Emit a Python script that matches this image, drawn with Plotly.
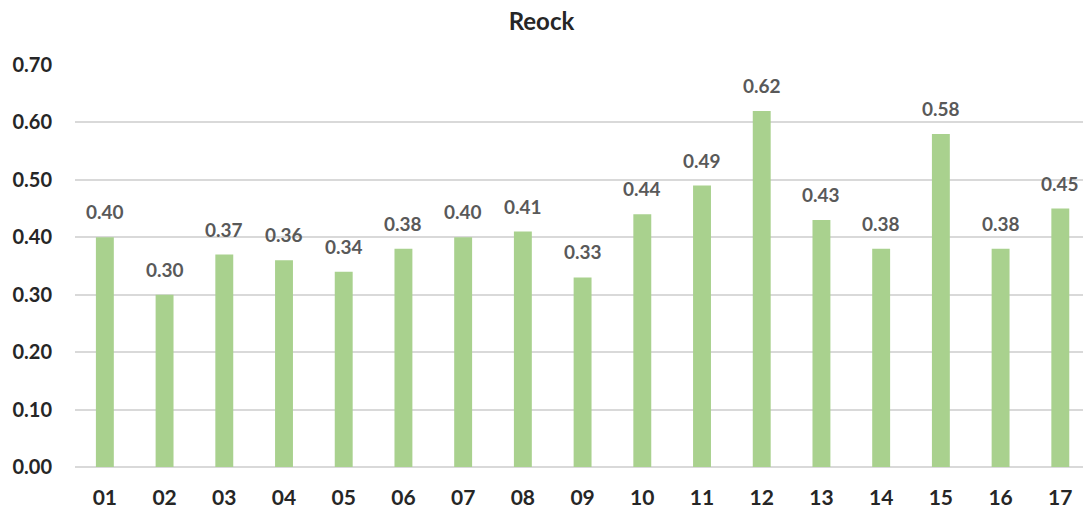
import plotly.graph_objects as go

categories = ["01", "02", "03", "04", "05", "06", "07", "08", "09", "10",
              "11", "12", "13", "14", "15", "16", "17"]
values = [0.40, 0.30, 0.37, 0.36, 0.34, 0.38, 0.40, 0.41, 0.33, 0.44,
          0.49, 0.62, 0.43, 0.38, 0.58, 0.38, 0.45]
y_ticks = [0.0, 0.1, 0.2, 0.3, 0.4, 0.5, 0.6, 0.7]

FONT = "Lato"
positions = list(range(len(categories)))

fig = go.Figure()
fig.add_trace(go.Bar(
    x=positions, y=values,
    marker=dict(color="#A9D18E", line=dict(width=0)),
    width=0.30, hoverinfo="skip",
))

for p, v in zip(positions, values):
    fig.add_annotation(
        x=p, y=v, text=f"<b>{v:.2f}</b>", showarrow=False,
        yanchor="bottom", yshift=12,
        font=dict(family=FONT, size=19, color="#595959"),
    )

fig.update_layout(
    width=1083, height=513,
    margin=dict(l=75, r=0, t=65, b=46),
    paper_bgcolor="white", plot_bgcolor="white",
    title=dict(text="<b>Reock</b>", x=0.5, xanchor="center", y=0.957, yanchor="middle",
               font=dict(family=FONT, size=24, color="#262626")),
    showlegend=False,
)
fig.update_xaxes(
    range=[-0.5, 16.38], automargin=False,
    tickvals=positions, ticktext=[f"<b>{c}</b>" for c in categories],
    showgrid=False, showline=False, zeroline=False, ticks="",
    tickfont=dict(family=FONT, size=21, color="#262626"),
    ticklabelstandoff=16,
)
fig.update_yaxes(
    range=[0, 0.70], automargin=False, tickvals=y_ticks,
    ticktext=[f"<b>{t:.2f}</b>" for t in y_ticks],
    showgrid=True, gridcolor="#D9D9D9", gridwidth=1.5,
    zeroline=True, zerolinecolor="#D9D9D9", zerolinewidth=1.5,
    showline=False, ticks="",
    tickfont=dict(family=FONT, size=20, color="#262626"),
    ticklabelstandoff=22,
)

fig.write_html("out.html", config={"displayModeBar": False},
               post_script="document.body.style.margin='0';")
